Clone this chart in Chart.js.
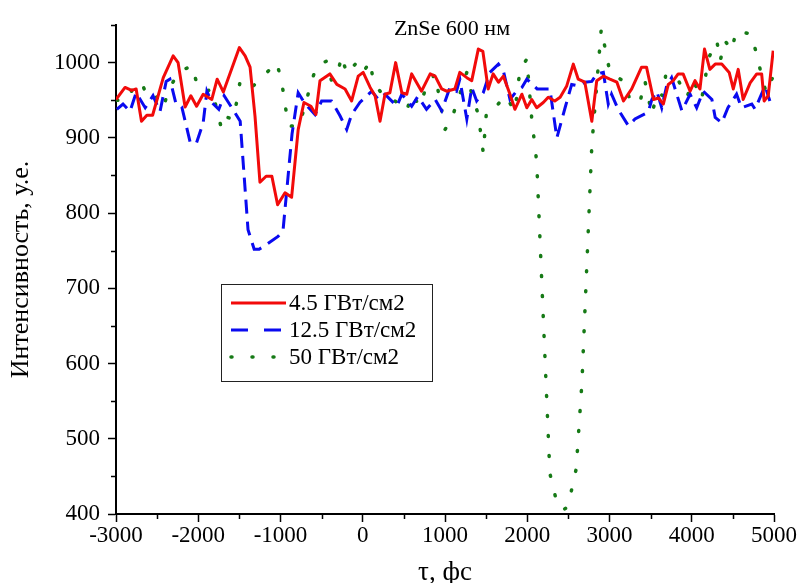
<!DOCTYPE html>
<html>
<head>
<meta charset="utf-8">
<script src="https://cdn.jsdelivr.net/npm/chart.js@4/dist/chart.umd.min.js"></script>
<style>
html,body{margin:0;padding:0;background:#fff;}
#c{display:block;}
</style>
</head>
<body>
<canvas id="c" width="800" height="583"></canvas>
<script>
const chartTitle = 'ZnSe 600 нм';
const xTitle = 'τ, фс';
const yTitle = 'Интенсивность, у.е.';
const seriesLabels = ['4.5 ГВт/см2', '12.5 ГВт/см2', '50 ГВт/см2'];

const redX = [-3000,-2890,-2810,-2755,-2690,-2625,-2555,-2425,-2305,-2245,-2160,-2090,-2020,-1940,-1835,-1770,-1695,-1500,-1430,-1370,-1310,-1250,-1175,-1105,-1035,-945,-865,-785,-715,-630,-570,-520,-400,-315,-215,-135,-55,5,90,150,210,270,330,400,475,535,595,715,820,880,960,1020,1120,1180,1265,1325,1405,1460,1525,1585,1650,1710,1790,1850,1935,1995,2055,2115,2195,2255,2335,2400,2480,2560,2620,2700,2785,2845,2925,3005,3090,3170,3270,3390,3450,3535,3595,3655,3715,3775,3835,3895,3980,4040,4100,4155,4220,4285,4365,4455,4505,4565,4625,4710,4790,4850,4880,4930,4990];
const redY = [951,967,963,965,922,930,930,980,1009,1000,941,956,942,958,951,978,961,1020,1009,994,929,841,849,849,811,827,821,911,947,942,931,976,985,971,965,949,982,987,967,956,922,958,960,1000,960,958,985,962,985,982,965,962,965,987,980,976,1018,1015,965,985,974,982,958,938,958,940,951,940,947,954,949,954,969,998,978,974,922,976,982,978,974,949,965,994,994,951,953,945,971,976,985,985,962,976,965,1018,991,998,998,987,965,991,951,973,985,985,949,956,1016];

const blueX = [-2990,-2915,-2830,-2755,-2645,-2550,-2465,-2390,-2345,-2270,-2200,-2100,-2025,-1940,-1895,-1835,-1750,-1685,-1580,-1490,-1395,-1320,-1260,-1200,-1030,-970,-860,-785,-700,-580,-500,-380,-275,-195,-135,-35,110,190,270,415,475,595,670,775,880,960,1060,1140,1180,1265,1325,1385,1465,1545,1650,1710,1790,1870,1935,1995,2120,2275,2360,2460,2540,2620,2700,2785,2845,2925,2985,3025,3105,3230,3310,3470,3515,3575,3635,3695,3755,3880,3980,4060,4140,4245,4285,4365,4440,4545,4605,4730,4770,4890,4950];
const blueY = [938,945,935,960,940,956,935,975,978,945,941,895,892,920,962,947,938,956,938,922,778,752,752,756,769,776,905,960,945,931,949,949,929,911,931,947,962,951,958,942,958,942,955,938,951,936,967,962,978,925,967,949,960,987,998,989,951,962,967,978,965,965,900,940,971,969,974,975,985,987,945,958,938,916,925,934,951,962,940,969,980,936,958,940,962,951,927,920,940,958,940,945,938,969,949];

const greenX = [-2990,-2890,-2770,-2690,-2625,-2525,-2425,-2365,-2245,-2075,-2005,-1895,-1835,-1775,-1715,-1640,-1580,-1530,-1490,-1350,-1210,-1045,-985,-945,-905,-785,-700,-640,-560,-440,-380,-315,-255,-195,-75,5,90,130,250,310,370,535,595,695,775,880,1000,1080,1160,1265,1325,1405,1465,1505,1610,1730,1850,1910,1995,2055,2115,2275,2360,2435,2495,2595,2665,2785,2900,3005,3190,3250,3370,3430,3515,3580,3650,3685,3820,3940,4020,4120,4160,4200,4305,4345,4405,4485,4540,4720,4790,4850,4905,4990];
const greenY = [950,949,969,974,956,958,940,962,987,996,967,962,965,938,911,927,925,949,976,967,982,1000,974,945,916,915,942,969,996,1002,976,982,1009,985,1000,987,1002,974,956,956,951,936,958,942,969,985,911,925,951,987,958,931,880,936,940,956,936,989,1005,925,868,454,415,405,410,460,575,890,1045,987,974,949,947,976,931,960,956,985,980,954,976,951,976,1005,1029,1002,1029,1016,1042,1038,1011,982,960,982];

const xMin = -3000, xMax = 5000, xStep = 500, xMajor = 1000;
const yMin = 400, yMax = 1050, yStep = 50, yMajor = 100;

function zip(xs, ys) { return xs.map((x, i) => ({x: x, y: ys[i]})); }

const FONT = '"Liberation Serif", "Times New Roman", serif';

const legendDash = [[], [17, 16], [1, 20]];

const extrasPlugin = {
  id: 'extras',
  afterDraw(chart) {
    const ctx = chart.ctx;
    const xs = chart.scales.x, ys = chart.scales.y;
    const area = chart.chartArea;
    ctx.save();
    // minor ticks
    ctx.strokeStyle = '#000';
    ctx.lineWidth = 1.5;
    ctx.beginPath();
    xs.ticks.forEach(t => {
      if (t.value % xMajor !== 0) {
        const px = Math.round(xs.getPixelForValue(t.value)) + 0.5;
        ctx.moveTo(px, area.bottom);
        ctx.lineTo(px, area.bottom + 5);
      }
    });
    ys.ticks.forEach(t => {
      if (t.value % yMajor !== 0) {
        const py = Math.round(ys.getPixelForValue(t.value)) + 0.5;
        ctx.moveTo(area.left - 5, py);
        ctx.lineTo(area.left, py);
      }
    });
    ctx.stroke();

    // title
    ctx.fillStyle = '#000';
    ctx.font = '22px ' + FONT;
    ctx.textAlign = 'center';
    ctx.textBaseline = 'alphabetic';
    ctx.fillText(chartTitle, 452, 35);

    // legend
    const bx = 221, by = 284, bw = 211, bh = 97;
    ctx.fillStyle = '#fff';
    ctx.fillRect(bx, by, bw, bh);
    ctx.strokeStyle = '#222';
    ctx.lineWidth = 1;
    ctx.strokeRect(bx + 0.5, by + 0.5, bw, bh);
    chart.data.datasets.forEach((ds, i) => {
      const y = 303 + i * 27;
      ctx.beginPath();
      ctx.setLineDash(legendDash[i]);
      ctx.lineCap = ds.borderCapStyle || 'butt';
      ctx.strokeStyle = ds.borderColor;
      ctx.lineWidth = ds.borderWidth;
      ctx.moveTo(231, y);
      ctx.lineTo(286, y);
      ctx.stroke();
      ctx.setLineDash([]);
      ctx.fillStyle = '#000';
      ctx.font = '23px ' + FONT;
      ctx.textAlign = 'left';
      ctx.textBaseline = 'middle';
      ctx.fillText(ds.label, 289, y + 1);
    });
    ctx.restore();
  }
};

new Chart(document.getElementById('c'), {
  type: 'line',
  data: {
    datasets: [
      {label: seriesLabels[0], data: zip(redX, redY), borderColor: '#f20a0a', borderWidth: 3, pointRadius: 0, tension: 0, fill: false, borderJoinStyle: 'round'},
      {label: seriesLabels[1], data: zip(blueX, blueY), borderColor: '#0a0af0', borderWidth: 3, borderDash: [14, 8], pointRadius: 0, tension: 0, fill: false},
      {label: seriesLabels[2], data: zip(greenX, greenY), borderColor: '#167a16', borderWidth: 3.5, borderDash: [1, 19], borderCapStyle: 'round', pointRadius: 0, tension: 0, fill: false}
    ]
  },
  options: {
    responsive: false,
    animation: false,
    devicePixelRatio: 1,
    layout: {padding: {top: 25, right: 26, left: 0, bottom: 0}},
    plugins: {legend: {display: false}, tooltip: {enabled: false}},
    scales: {
      x: {
        type: 'linear', min: xMin, max: xMax,
        afterFit(s) { s.height = 69; },
        border: {color: '#000', width: 2},
        grid: {drawOnChartArea: false, tickLength: 8, tickWidth: 1.5,
               tickColor: c => (c.tick && c.tick.value % xMajor === 0) ? '#000' : 'rgba(0,0,0,0)'},
        ticks: {stepSize: xStep, autoSkip: false, maxRotation: 0, padding: 0, color: '#000',
                font: {family: FONT, size: 23},
                callback: v => (v % xMajor === 0 ? String(v) : '')},
        title: {display: true, text: xTitle, color: '#000', font: {family: FONT, size: 27, lineHeight: 0.75}, padding: {top: 0, bottom: 0}}
      },
      y: {
        min: yMin, max: yMax,
        afterFit(s) { s.width = 116; },
        border: {color: '#000', width: 2},
        grid: {drawOnChartArea: false, tickLength: 8, tickWidth: 1.5,
               tickColor: c => (c.tick && c.tick.value % yMajor === 0) ? '#000' : 'rgba(0,0,0,0)'},
        ticks: {stepSize: yStep, autoSkip: false, padding: 8, color: '#000',
                font: {family: FONT, size: 23},
                callback: v => (v % yMajor === 0 ? String(v) : '')},
        title: {display: true, text: yTitle, color: '#000', font: {family: FONT, size: 26, lineHeight: 1}, padding: {top: 8, bottom: 0}}
      }
    }
  },
  plugins: [extrasPlugin]
});
</script>
</body>
</html>
